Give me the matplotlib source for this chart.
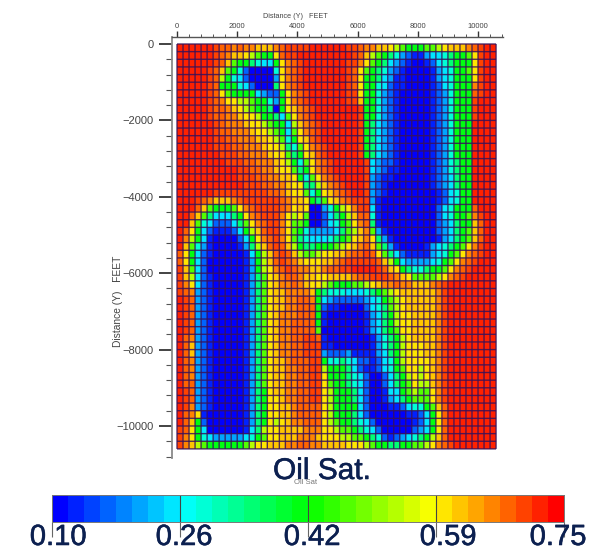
import numpy as np
import matplotlib
matplotlib.use("Agg")
import matplotlib.pyplot as plt
import matplotlib.patheffects as pe
from matplotlib.colors import LinearSegmentedColormap, Normalize

plt.rcParams["font.family"] = ["Liberation Sans", "DejaVu Sans"]

W, H = 592, 552

# one char per cell, blocks of 10 columns, top row first
sat_rows = [
    "ffffffeddc dccbbbcdee eeffffffee dccbba9877 7889abbbcd eff",
    "ffffffedcb ba9877adee fffffffffe db98765321 134456778a eff",
    "ffffffedb8 7765447acd efffffffee ca87643210 012456777a eff",
    "fffffedb87 5200005acd efffffffed a876532100 001345778a eff",
    "fffffed975 4200003acd efffffffed a776431100 001345777a eff",
    "fffffed777 5420006acd efffffffed a775421100 001245777c eff",
    "fffffeda87 77743227ac deffffffee a775321000 001235777d eff",
    "fffffedcaa 99877537ac deffffffee b775321000 001235777e fff",
    "fffffeddcb a9877607ab cdefffffff e775321000 001235777e fff",
    "fffffeddcc baa977648a cdefffffff e775321000 001235777e fff",
    "ffffffedcc cbaa987749 bcdeffffff e764321000 001235777f fff",
    "ffffffeddc ccbaa98748 acdeffffff e764321000 001235777f fff",
    "ffffffeedd cccbba9857 abdeffffff e764321000 001235777f fff",
    "ffffffeeed dcccbaa965 8acdefffff e764321000 001235777f fff",
    "fffffffeee ddcccbaa86 7abdefffff e764321000 001235777f fff",
    "ffffffffee eddcccba97 58acdeffff fe43221000 001235677f fff",
    "ffffffffff eeddccbaa8 67acdeffff fe43211000 001235677f fff",
    "ffffffffff eeeddccbba 758acdefff fe32110000 001234677f fff",
    "ffffffffff feeeddccba a669bcdeff fe32100000 001234677f fff",
    "ffffffeeee eeeeeddcba a857abcdef fe32100000 000124577f fff",
    "fffedcbbbc deeeeeedcb ba768abcde ee31000000 000124577f fff",
    "fffdb87778 acdeeeedca ba003579ac ee41000000 000245777d fff",
    "ffdb864446 7acdeeeca9 a80024679b dd51000000 000245778c eff",
    "ffb8542224 68acdeeca8 870024578a cd61000000 000234677b dff",
    "fda7421112 479bdeeca8 7533334689 bc83100000 000234678b dff",
    "fc97410000 247acdeca8 654445678a bca6310000 000134678b dff",
    "fb85310000 1369bdedb9 76677789ab cdb8631000 01345678ac eff",
    "da74210000 01479bdedb 9889aabbcd deda864211 1134578acd eff",
    "da74200000 01379bdedc baaabbcdee eeedb97433 334578acde fff",
    "eb84200000 01379acded ccbbcddeef fffedba765 56778acdef fff",
    "eb94210000 01368abcdd cbbaabbbbc ddeeedcba8 8889acdeff fff",
    "eca4210000 01368abccd cbaa987778 89abccdccb bbcdefffff fff",
    "edc3210000 01368abbcc ccb7655544 456789abbb bbbcefffff fff",
    "fed3210000 01368abbcc ddc7432222 2345789abb bbbcefffff fff",
    "fed3210000 01368abbcc ddd7211000 0245689abb bbbcefffff fff",
    "fed3210000 01368abccc ddd7100000 0134679aab bbbcefffff fff",
    "fed3210000 01368abccd ddd7100000 0134679aab bbbcefffff fff",
    "fed3210000 01368abccd ddd8000000 0134678aab bbbcefffff fff",
    "fdc3210000 01368abccd deed100000 00135679ab bbbcefffff fff",
    "fdb3210000 01368abccd deee110000 00135679aa abbcefffff fff",
    "fdb3210000 01368abccd deee322231 11134679aa abbcefffff fff",
    "fdc3210000 01368abbcd ddee755654 22124579aa aabcefffff fff",
    "fdc3210000 01368abbcc ddee977764 21124578aa 9abcefffff fff",
    "fdc3210000 01368abbcc ddeea77765 420024679a 9abcefffff fff",
    "fdd3210000 01368abbcc ddeea87765 420024678a 99bcefffff fff",
    "fed3210000 01367abbcc ddeea97776 4200144789 88acefffff fff",
    "fed3210000 01367aabcc ddeea97776 4200134678 88acefffff fff",
    "fec3210000 01367aabbc dddda97777 4200011245 578bdfffff fff",
    "fdca100000 01367aabbc dddda97776 4200000011 247adfffff fff",
    "fdb7200000 01367a9abc cddda98776 5420000001 247adfffff fff",
    "eda7400000 01469aabbb bcccaa9887 6542000002 347adfffff fff",
    "eca7543333 34578aabbb cccbaaa998 8765212345 679bdfffff fff",
    "ecb9877777 789aabbbcc ddccbbbbaa a987766778 89acdeffff fff",
]
sat_codes = "0123456789abcdef"
sat_values = [0.10, 0.14, 0.18, 0.22, 0.26, 0.30, 0.36, 0.42,
              0.47, 0.54, 0.59, 0.62, 0.65, 0.68, 0.70, 0.725]

x_major = [0, 2000, 4000, 6000, 8000, 10000]
x_labels = ["0", "2000", "4000", "6000", "8000", "10000"]
y_major = [0, -2000, -4000, -6000, -8000, -10000]
y_labels = ["0", "\u22122000", "\u22124000", "\u22126000", "\u22128000", "\u221210000"]
bar_ticks = [0.10, 0.2625, 0.425, 0.5875, 0.75]
bar_labels = ["0.10", "0.26", "0.42", "0.59", "0.75"]

CELL_FT = 200
sat = np.array([[sat_values[sat_codes.index(ch)] for ch in row.replace(" ", "")]
                for row in sat_rows])
n_rows, n_cols = sat.shape
x_edges = np.arange(n_cols + 1) * CELL_FT
y_edges = -np.arange(n_rows + 1) * CELL_FT

cmap = LinearSegmentedColormap.from_list(
    "oilsat", ["#0000ff", "#00ffff", "#00ff00", "#ffff00", "#ff0000"], N=32)
norm = Normalize(0.10, 0.75)


def px_axes(fig, left, top, right, bottom):
    return fig.add_axes([left / W, 1 - bottom / H, (right - left) / W, (bottom - top) / H])


def px_text(fig, x, y, s, **kw):
    kw.setdefault("ha", "center")
    kw.setdefault("va", "center")
    fig.text(x / W, 1 - y / H, s, **kw)


fig = plt.figure(figsize=(W / 100, H / 100), dpi=100)

# main grid, lines drawn apart from the mesh so they keep an even spacing
ax = px_axes(fig, 171.7, 36.7, 503, 458)
ax.pcolormesh(x_edges, y_edges, sat, cmap=cmap, norm=norm, linewidth=0)
grid_v = ax.vlines(x_edges, y_edges[-1], 0, color="#38125a", linewidth=1.0, alpha=0.85)
grid_h = ax.hlines(y_edges, 0, x_edges[-1], color="#38125a", linewidth=1.0, alpha=0.85)
grid_v.set_snap(False)
grid_h.set_snap(False)
ax.set_xlim(-176, 10830)
ax.set_ylim(-10838, 191)
ax.xaxis.tick_top()
ax.spines["right"].set_visible(False)
ax.spines["bottom"].set_visible(False)
ax.spines["left"].set_color("#8a8a8a")
ax.spines["left"].set_linewidth(1.3)
ax.spines["top"].set_color("#555555")
ax.spines["top"].set_linewidth(1.0)

ax.set_xticks(x_major, x_labels)
ax.set_xticks(np.arange(0, 10801, 400), minor=True)
ax.set_yticks(y_major, y_labels)
ax.set_yticks(-np.arange(0, 10801, 400), minor=True)
ax.tick_params(axis="x", which="major", length=4, width=1.0, color="#333333",
               labelsize=5.5, labelcolor="#444444", pad=0.5)
ax.tick_params(axis="x", which="minor", length=2, width=0.7, color="#555555")
ax.tick_params(axis="y", which="major", length=9.6, width=1.2, color="#222222",
               labelsize=8, labelcolor="#444444", pad=3.5)
ax.tick_params(axis="y", which="minor", length=4.6, width=0.8, color="#555555")

px_text(fig, 295, 16, "Distance (Y)   FEET", fontsize=5.2, color="#444444")
px_text(fig, 118, 301, "Distance (Y)   FEET", fontsize=7.4, color="#444444", rotation=90)

# colour bar
bar_ax = px_axes(fig, 52, 495, 564, 521.5)
levels = np.linspace(0.10, 0.75, 33)
bar_ax.pcolormesh(levels, [0, 1], (levels[:-1] + levels[1:])[None, :] / 2, cmap=cmap, norm=norm)
bar_ax.set_xlim(0.10, 0.75)
bar_ax.set_ylim(0, 1)
bar_ax.set_yticks([])
bar_ax.set_xticks(bar_ticks, [""] * len(bar_ticks))
bar_ax.vlines(bar_ticks, 0, 1, color="#444444", linewidth=0.8)
bar_ax.tick_params(axis="x", length=11, width=0.8, color="#666666")
for spine in bar_ax.spines.values():
    spine.set_color("#777777")
    spine.set_linewidth(0.7)

navy = "#0c2050"
heavy = [pe.withStroke(linewidth=0.4, foreground=navy)]
px_text(fig, 322, 471, "Oil Sat.", fontsize=21.5, color=navy, zorder=3, path_effects=heavy)
px_text(fig, 306, 483, "Oil Sat", fontsize=5.5, color="#777777", zorder=4)
for cx, lab in zip([58, 184, 312, 448, 558], bar_labels):
    px_text(fig, cx, 537, lab, fontsize=21, color=navy, path_effects=heavy)

fig.savefig("out.png", dpi=100)
